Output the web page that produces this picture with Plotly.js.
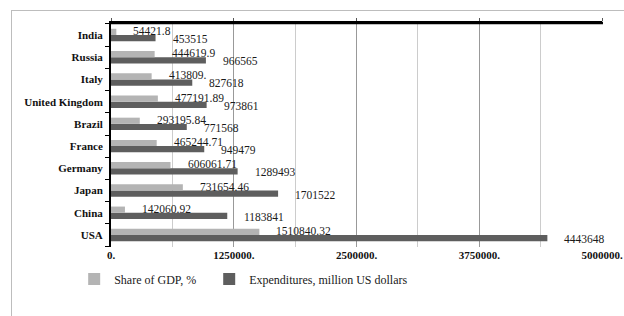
<!DOCTYPE html>
<html><head><meta charset="utf-8">
<script src="https://cdn.plot.ly/plotly-3.0.1.min.js"></script>
<style>
html,body{margin:0;padding:0;background:#fff;}
#frame{position:absolute;left:11px;top:10px;width:640px;height:340px;border:1px solid #bdbdbd;box-sizing:border-box;}
#chart{position:absolute;left:0;top:0;width:624px;height:316px;}
</style></head>
<body>
<div id="frame"></div>
<div id="chart"></div>
<script>
var countries = ["USA","China","Japan","Germany","France","Brazil","United Kingdom","Italy","Russia","India"];
var shareOfGDP = [1510840.32,142060.92,731654.46,606061.71,465244.71,293195.84,477191.89,413809,444619.9,54421.8];
var expenditures = [4443648,1183841,1701522,1289493,949479,771568,973861,827618,966565,453515];
var xTickVals = [0,1250000,2500000,3750000,5000000];
var xTickText = xTickVals.map(function(v){return v+'.';});

var serif = 'Liberation Serif, Times New Roman, serif';
var lightC = '#b4b4b4', darkC = '#5e5e5e';

function fmtShare(v){ return Number.isInteger(v) ? v + '.' : String(v); }

var traces = [
  {type:'bar', orientation:'h', name:'Expenditures, million US dollars', y:countries, x:expenditures,
   xaxis:'x', yaxis:'y', alignmentgroup:'g', offsetgroup:'1',
   marker:{color:darkC}, hoverinfo:'none', legend:'legend2'},
  {type:'bar', orientation:'h', name:'Share of GDP, %', y:countries, x:shareOfGDP,
   xaxis:'x2', yaxis:'y', alignmentgroup:'g', offsetgroup:'2',
   marker:{color:lightC}, hoverinfo:'none', legend:'legend'}
];

var annotations = [];
countries.forEach(function(c,i){
  annotations.push({x:shareOfGDP[i], y:c, xref:'x2', yref:'y', text:fmtShare(shareOfGDP[i]),
    showarrow:false, xanchor:'left', yanchor:'middle', xshift:15, yshift:4,
    font:{family:serif,size:11.5,color:'#1a1a1a'}});
  annotations.push({x:expenditures[i], y:c, xref:'x', yref:'y', text:String(expenditures[i]),
    showarrow:false, xanchor:'left', yanchor:'middle', xshift:15, yshift:-4,
    font:{family:serif,size:11.5,color:'#1a1a1a'}});
});

var legFont = {family:serif,size:12,color:'#1a1a1a'};
var layout = {
  width:624, height:316,
  margin:{l:111, r:22, t:23, b:69},
  paper_bgcolor:'rgba(0,0,0,0)', plot_bgcolor:'rgba(0,0,0,0)',
  barmode:'group', bargap:0.44, bargroupgap:0,
  showlegend:true,
  legend:{orientation:'h', x:-0.075, xanchor:'left', y:-0.078, yanchor:'top',
    font:legFont, itemwidth:30, bgcolor:'rgba(0,0,0,0)'},
  legend2:{orientation:'h', x:0.2, xanchor:'left', y:-0.078, yanchor:'top',
    font:legFont, itemwidth:30, bgcolor:'rgba(0,0,0,0)'},
  xaxis:{range:[0,5000000], side:'top', anchor:'y',
    tickvals:xTickVals, showticklabels:false,
    showline:true, linecolor:'#000', linewidth:2,
    ticks:'outside', ticklen:3, tickcolor:'#555', tickwidth:1,
    showgrid:true, gridcolor:'#999', gridwidth:1, zeroline:false,
    minor:{dtick:625000, tick0:0, showgrid:true, gridcolor:'#cccccc', gridwidth:1}},
  xaxis2:{overlaying:'x', side:'bottom', anchor:'y', range:[0,5000000],
    tickvals:xTickVals, ticktext:xTickText, ticks:'',
    tickfont:{family:serif,size:11,color:'#111',weight:'bold'},
    showline:false, showgrid:false, zeroline:false},
  yaxis:{showline:true, linecolor:'#000', linewidth:2, ticks:'outside', ticklen:4,
    tickson:'boundaries', tickcolor:'#000', tickwidth:1, ticklabelstandoff:4,
    tickfont:{family:serif,size:11,color:'#111',weight:'bold'},
    showgrid:false, zeroline:false},
  shapes:[{type:'line', xref:'paper', yref:'paper', x0:-0.004, x1:1.002, y0:1, y1:1,
    line:{color:'#000', width:2.5}, layer:'above'}],
  annotations:annotations
};

Plotly.newPlot('chart', traces, layout, {displayModeBar:false, staticPlot:true});
</script>
</body></html>
